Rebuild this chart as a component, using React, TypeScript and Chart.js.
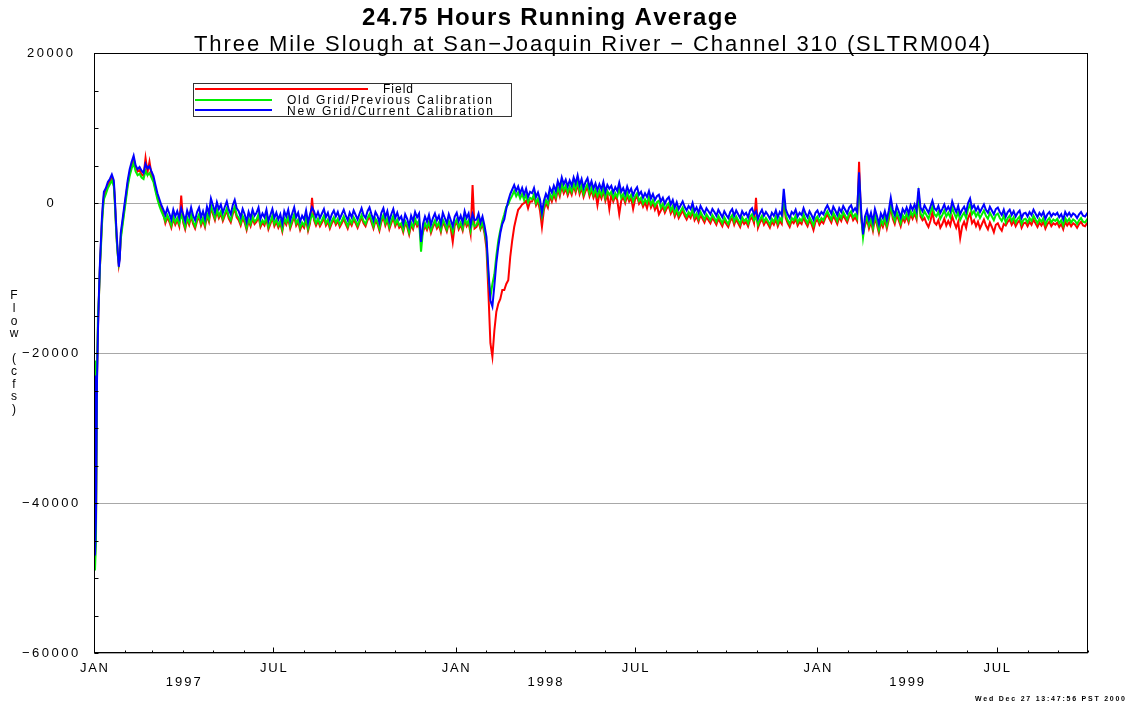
import React, { useEffect, useRef } from 'react';
import { Chart, registerables } from 'chart.js';

Chart.register(...registerables);

// Day offsets from 1 Jan 1997
const days: number[] = [
  0, 1, 2, 3, 4, 5, 6, 7, 8, 9, 10, 12, 14, 16, 18, 20, 21, 22, 23, 24, 25, 26, 27, 28, 30, 32, 34, 36, 38, 40, 42, 44,
  46, 48, 50, 52, 54, 56, 58, 60, 62, 64,
  66, 68, 70, 72, 74, 76, 78, 80, 82, 84,
  86, 88, 90, 92, 94, 96, 98, 100, 102, 104,
  106, 108, 110, 112, 114, 116, 118, 120, 122, 124,
  126, 128, 130, 132, 134, 136, 138, 140, 142, 144,
  146, 148, 150, 152, 154, 156, 158, 160, 162, 164,
  166, 168, 170, 172, 174, 176, 178, 180, 182, 184,
  186, 188, 190, 192, 194, 196, 198, 200, 202, 204,
  206, 208, 210, 212, 214, 216, 218, 220, 222, 224,
  226, 228, 230, 232, 234, 236, 238, 240, 242, 244,
  246, 248, 250, 252, 254, 256, 258, 260, 262, 264,
  266, 268, 270, 272, 274, 276, 278, 280, 282, 284,
  286, 288, 290, 292, 294, 296, 298, 300, 302, 304,
  306, 308, 310, 312, 314, 316, 318, 320, 322, 324,
  326, 328, 330, 332, 334, 336, 338, 340, 342, 344,
  346, 348, 350, 352, 354, 356, 358, 360, 362, 364,
  366, 368, 370, 372, 374, 376, 378, 380, 382, 384,
  386, 388, 390, 392, 394, 396, 398, 400, 402, 404,
  406, 408, 410, 412, 414, 416, 418, 420, 422, 424,
  426, 428, 430, 432, 434, 436, 438, 440,
  442, 444, 446, 448, 450, 452, 454, 456, 458, 460,
  462, 464, 466, 468, 470, 472, 474, 476, 478, 480,
  482, 484, 486, 488, 490, 492, 494, 496, 498, 500,
  502, 504, 506, 508, 510, 512, 514, 516, 518, 520,
  522, 524, 526, 528, 530, 532, 534, 536, 538, 540,
  542, 544, 546, 548, 550, 552, 554, 556, 558, 560,
  562, 564, 566, 568, 570, 572, 574, 576, 578, 580,
  582, 584, 586, 588, 590, 592, 594, 596, 598, 600,
  602, 604, 606, 608, 610, 612, 614, 616, 618, 620,
  622, 624, 626, 628, 630, 632, 634, 636, 638, 640,
  642, 644, 646, 648, 650, 652, 654, 656, 658, 660,
  662, 664, 666, 668, 670, 672, 674, 676, 678, 680,
  682, 684, 686, 688, 690, 692, 694, 696, 698, 700,
  702, 704, 706, 708, 710, 712, 714, 716, 718, 720,
  722, 724, 726, 728, 730, 732, 734, 736, 738, 740,
  742, 744, 746, 748, 750, 752, 754, 756, 758, 760,
  762, 764, 766, 768, 770, 772, 774, 776, 778, 780,
  782, 784, 786, 788, 790, 792, 794, 796, 798, 800,
  802, 804, 806, 808, 810, 812, 814, 816, 818, 820,
  822, 824, 826, 828, 830, 832, 834, 836, 838, 840,
  842, 844, 846, 848, 850, 852, 854, 856, 858, 860,
  862, 864, 866, 868, 870, 872, 874, 876, 878, 880,
  882, 884, 886, 888, 890, 892, 894, 896, 898, 900,
  902, 904, 906, 908, 910, 912, 914, 916, 918, 920,
  922, 924, 926, 928, 930, 932, 934, 936, 938, 940,
  942, 944, 946, 948, 950, 952, 954, 956, 958, 960,
  962, 964, 966, 968, 970, 972, 974, 976, 978, 980,
  982, 984, 986, 988, 990, 992, 994, 996, 998, 1000,
  1002, 1003,
];

// Field (observed) flow, cfs
const fieldFlow: number[] = [
  -22500, -47500, -43000, -23500, -16500, -12500, -8500, -5500, -2500, -500, 1000, 1600, 2400, 2900, 3400, 2600, 400,
  -2400, -5000, -6800, -8200, -7200, -4500, -3400, -1400, 600, 2600, 4000, 5000, 5900, 4800, 4200,
  4400, 3800, 3600, 6000, 4100, 5500, 3800, 3100, 1900, 800,
  -100, -800, -1500, -2700, -1900, -2500, -3300, -2100, -2900, -2300,
  -3100, 1000, -2600, -3500, -2200, -2900, -1800, -2800, -3400, -2400,
  -1800, -3000, -2300, -3200, -1700, -2500, -600, -1500, -2300, -1100,
  -2000, -1400, -2400, -1700, -1000, -2100, -2600, -1500, -800, -1900,
  -2300, -3000, -2000, -2600, -3600, -2400, -3100, -2100, -2800, -2500,
  -1800, -3200, -2600, -3000, -2100, -3500, -2800, -2000, -3100, -2500,
  -3300, -2700, -3800, -2300, -2900, -2100, -3400, -2600, -1800, -3000,
  -2500, -3600, -2900, -3300, -2200, -3700, -2700, 700, -2300, -3000,
  -2400, -3100, -2600, -2000, -3000, -2500, -3400, -2700, -2200, -2900,
  -2400, -3200, -2700, -2100, -2800, -3400, -2500, -3000, -2200, -2700,
  -3300, -2600, -1900, -2700, -3100, -2300, -1800, -2600, -3400, -2400,
  -2800, -3700, -2500, -1900, -3000, -2300, -3500, -2700, -2000, -3100,
  -2500, -3300, -3000, -3900, -2700, -3200, -4200, -2900, -3500, -2400,
  -3100, -2600, -4800, -3900, -3000, -3600, -2800, -4000, -3200, -2600,
  -3400, -2900, -3900, -2500, -3100, -3800, -2700, -3400, -5200, -3000,
  -2500, -3500, -2900, -3700, -2300, -3100, -2600, -4100, 2400, -3400,
  -3200, -2500, -3500, -2800, -4000, -6000, -12000, -18700, -20500, -17000,
  -14500, -13400, -12800, -11600, -11600, -10800, -10300, -7200, -5000, -3200,
  -2000, -900, -600, -200, 0, 300, -700, 200,
  200, 900, -300, 300, -1000, -3200, -900, 0, -600, 900,
  200, 1100, 400, 1800, 900, 2200, 1300, 1900, 1000, 1800,
  1100, 2300, 1400, 2500, 1200, 2000, 800, 1600, 2100, 900,
  1700, 700, 1400, -300, 1300, 600, 1600, 300, 1200, -800,
  1100, 200, 900, 400, -1500, 300, 800, 0, 1000, 200,
  700, -800, 500, 900, -100, 300, -500, 100, -700, 400,
  -600, 0, -900, -300, -1500, -1000, -500, -1300, -700, -400,
  -1400, -800, -1800, -1100, -2000, -1500, -1000, -1700, -2200, -1600,
  -2000, -1200, -2300, -1800, -2500, -1600, -2100, -2600, -1900, -2300,
  -2700, -2000, -2400, -2900, -2100, -2600, -3100, -2300, -2800, -3200,
  -2400, -2000, -2900, -2200, -2700, -3200, -2300, -2800, -2500, -3100,
  -2200, -1900, -2700, 700, -3300, -2600, -2100, -2900, -2400, -2800,
  -3300, -2500, -2900, -2200, -3100, -2400, -2800, 400, -2000, -2700,
  -3200, -2400, -2700, -2100, -3000, -2500, -2800, -1900, -2600, -3100,
  -2300, -2800, -3600, -2500, -2200, -2900, -2400, -2700, -2000, -1500,
  -2100, -2600, -1700, -2200, -2800, -1900, -2400, -1600, -2100, -2600,
  -1800, -1500, -2300, -1900, -2400, 5500, -2000, -3800, -3000, -2200,
  -3400, -2500, -3700, -2000, -2900, -4000, -2600, -3200, -2300, -3400,
  -2200, -500, -2100, -2800, -1600, -2300, -3100, -2000, -2500, -1800,
  -2600, -1500, -2100, -1400, -2200, 1500, -1800, -2300, -2000, -2700,
  -3200, -2400, -1200, -2600, -2900, -2300, -3300, -2800, -2100, -3000,
  -2400, -3000, -1800, -2600, -3300, -2500, -4700, -3100, -2500, -3300,
  -2000, -1400, -2700, -2300, -3100, -2500, -3400, -2800, -2200, -3000,
  -3500, -2600, -3200, -3900, -2900, -2700, -3300, -3700, -2800, -3000,
  -2500, -2200, -2900, -2400, -3100, -2600, -2300, -3300, -2700, -2600,
  -3100, -2500, -2900, -2200, -2700, -3200, -2600, -3000, -2500, -3400,
  -2800, -2500, -3100, -2700, -2900, -2600, -3200, -2800, -3500, -2500,
  -3000, -2600, -3100, -2700, -2900, -3300, -2800, -2500, -3000, -3100,
  -2700, -2900,
];

// Old grid / previous calibration, cfs
const oldGridFlow: number[] = [
  -21000, -49000, -45000, -23000, -15000, -12500, -8500, -6000, -3000, -1000, 500, 1200, 2000, 2500, 3000, 2200, 0,
  -2800, -5200, -7000, -8000, -7000, -4800, -3800, -1800, 200, 2200, 3600, 4600, 5300, 4200, 3700,
  3900, 3400, 3200, 4300, 3700, 4000, 3400, 2800, 1600, 500,
  -400, -1100, -1700, -2400, -1600, -2200, -3000, -1800, -2600, -2000,
  -2800, -1600, -2300, -3200, -1900, -2600, -1500, -2500, -3100, -2100,
  -1500, -2700, -2000, -2900, -1400, -2200, -300, -1200, -2000, -800,
  -1700, -1100, -2100, -1400, -700, -1800, -2300, -1200, -500, -1600,
  -2000, -2700, -1700, -2300, -3300, -2100, -2800, -1800, -2500, -2200,
  -1500, -2900, -2300, -2700, -1800, -3200, -2500, -1700, -2800, -2200,
  -3000, -2400, -3500, -2000, -2600, -1800, -3100, -2300, -1500, -2700,
  -2200, -3300, -2600, -3000, -1900, -3400, -2400, -1500, -2000, -2700,
  -2100, -2800, -2300, -1700, -2700, -2200, -3100, -2400, -1900, -2600,
  -2100, -2900, -2400, -1800, -2500, -3100, -2200, -2700, -1900, -2400,
  -3000, -2300, -1600, -2400, -2800, -2000, -1500, -2300, -3100, -2100,
  -2500, -3400, -2200, -1600, -2700, -2000, -3200, -2400, -1700, -2800,
  -2200, -3000, -2700, -3600, -2400, -2900, -3900, -2600, -3200, -2100,
  -2800, -2300, -6500, -3600, -2700, -3300, -2500, -3700, -2900, -2300,
  -3100, -2600, -3600, -2200, -2800, -3500, -2400, -3100, -3900, -2700,
  -2200, -3200, -2600, -3400, -2000, -2800, -2300, -3700, -2400, -3100,
  -2900, -2100, -3300, -2500, -3700, -5200, -9800, -12500, -10800, -9500,
  -7000, -5000, -3600, -2400, -1500, -500, -200, 500, 1000, 1600,
  900, 1400, 600, 1200, 400, 1100, 100, 700,
  500, 1200, 0, 600, -300, -1800, -500, 400, -200, 1200,
  600, 1500, 800, 2100, 1300, 2600, 1700, 2300, 1400, 2200,
  1500, 2600, 1800, 2900, 1600, 2400, 1200, 2000, 2500, 1300,
  2100, 1100, 1800, 900, 1700, 1000, 2000, 700, 1600, 1100,
  1500, 600, 1300, 800, 1900, 700, 1200, 400, 1400, 600,
  1100, 200, 900, 1300, 300, 700, -100, 500, 0, 800,
  -200, 400, -400, 100, 300, -600, -100, -900, -300, 0,
  -1000, -400, -1400, -700, -1600, -1100, -600, -1300, -1800, -1200,
  -1600, -800, -1900, -1400, -2100, -1200, -1700, -2200, -1500, -1900,
  -2300, -1600, -2000, -2500, -1700, -2200, -2700, -1900, -2400, -2800,
  -2000, -1600, -2500, -1800, -2300, -2800, -1900, -2400, -2100, -2700,
  -1800, -1500, -2300, -1900, -2900, -2200, -1700, -2500, -2000, -2400,
  -2900, -2100, -2500, -1800, -2700, -2000, -2400, 900, -1600, -2300,
  -2800, -2000, -2300, -1700, -2600, -2100, -2400, -1500, -2200, -2700,
  -1900, -2400, -3000, -2100, -1800, -2500, -2000, -2300, -1600, -1100,
  -1700, -2200, -1300, -1800, -2400, -1500, -2000, -1200, -1700, -2200,
  -1400, -1100, -1900, -1500, -2000, 3200, -1600, -4600, -2600, -1800,
  -3000, -2100, -3300, -1600, -2500, -3600, -2200, -2800, -1900, -3000,
  -1800, -100, -1700, -2400, -1200, -1900, -2700, -1600, -2100, -1400,
  -2200, -1100, -1700, -1000, -1800, 1000, -1400, -1900, -1100, -1600,
  -2100, -1300, -500, -1500, -1800, -1200, -2100, -1600, -1000, -1800,
  -1300, -1900, -600, -1400, -2000, -1200, -2300, -1700, -1300, -2000,
  -800, -200, -1500, -1100, -1800, -1300, -2000, -1500, -1000, -1700,
  -2100, -1300, -1800, -2300, -1600, -1400, -2000, -2400, -1700, -2600,
  -2000, -1700, -2400, -1900, -2600, -2100, -1800, -2800, -2200, -2100,
  -2600, -2000, -2400, -1700, -2200, -2700, -2100, -2500, -2000, -2900,
  -2300, -2000, -2600, -2200, -2400, -2100, -2700, -2300, -3000, -2000,
  -2500, -2100, -2600, -2200, -2400, -2800, -2300, -2000, -2500, -2600,
  -2200, -2400,
];

// New grid / current calibration, cfs
const newGridFlow: number[] = [
  -23000, -47000, -42000, -24000, -17000, -12000, -8000, -5000, -2000, 0, 1500, 2000, 2800, 3200, 3800, 3000, 800,
  -2000, -4500, -6500, -8500, -7500, -4000, -3000, -1000, 1000, 3000, 4500, 5500, 6300, 5000, 4500,
  4800, 4300, 4000, 5200, 4600, 4900, 4200, 3600, 2400, 1300,
  500, -300, -900, -1600, -700, -1400, -2200, -900, -1800, -1100,
  -2000, -700, -1500, -2400, -1000, -1800, -600, -1700, -2300, -1200,
  -600, -1900, -1100, -2100, -500, -1400, 600, -300, -1200, 100,
  -800, -200, -1300, -500, 200, -900, -1500, -300, 400, -700,
  -1100, -1900, -800, -1500, -2500, -1200, -2000, -900, -1700, -1300,
  -600, -2100, -1400, -1900, -900, -2400, -1600, -800, -2000, -1300,
  -2200, -1500, -2700, -1100, -1800, -900, -2300, -1400, -600, -1900,
  -1300, -2500, -1700, -2200, -1000, -2600, -1500, -600, -1100, -1900,
  -1200, -2000, -1400, -800, -1900, -1300, -2300, -1500, -1000, -1800,
  -1200, -2100, -1500, -900, -1700, -2300, -1300, -1900, -1000, -1600,
  -2200, -1400, -700, -1600, -2000, -1100, -600, -1500, -2300, -1200,
  -1700, -2600, -1300, -700, -1900, -1100, -2400, -1500, -800, -2000,
  -1300, -2200, -1800, -2800, -1500, -2100, -3100, -1700, -2400, -1200,
  -1900, -1400, -5200, -2800, -1800, -2500, -1600, -2900, -2000, -1400,
  -2300, -1700, -2800, -1300, -2000, -2700, -1500, -2300, -3100, -1800,
  -1300, -2400, -1700, -2600, -1100, -2000, -1400, -2900, -1500, -2300,
  -2200, -1400, -2600, -1800, -3000, -4500, -9000, -13000, -13800, -11000,
  -8000, -5800, -4000, -2800, -2200, -800, 300, 1200, 1800, 2400,
  1600, 2200, 1300, 2000, 1100, 1900, 800, 1500,
  1300, 2000, 800, 1400, 500, -1300, 300, 1200, 600, 2000,
  1400, 2300, 1600, 2900, 2100, 3400, 2500, 3100, 2200, 3000,
  2300, 3400, 2600, 3700, 2400, 3200, 2000, 2800, 3300, 2100,
  2900, 1900, 2600, 1700, 2500, 1800, 2800, 1500, 2400, 1900,
  2300, 1400, 2100, 1600, 2700, 1500, 2000, 1200, 2200, 1400,
  1900, 1000, 1700, 2100, 1100, 1500, 700, 1300, 800, 1600,
  600, 1200, 400, 900, 1100, 200, 700, -100, 500, 800,
  -200, 400, -600, 100, -800, -300, 200, -500, -1000, -400,
  -800, 0, -1100, -600, -1300, -400, -900, -1400, -700, -1100,
  -1500, -800, -1200, -1700, -900, -1400, -1900, -1100, -1600, -2000,
  -1200, -800, -1700, -1000, -1500, -2000, -1100, -1600, -1300, -1900,
  -1000, -700, -1500, -1100, -2100, -1400, -900, -1700, -1200, -1600,
  -2100, -1300, -1700, -1000, -1900, -1200, -1600, 1900, -800, -1500,
  -2000, -1200, -1500, -900, -1800, -1300, -1600, -700, -1400, -1900,
  -1100, -1600, -2200, -1300, -1000, -1700, -1200, -1500, -800, -300,
  -900, -1400, -500, -1000, -1600, -700, -1200, -400, -900, -1400,
  -600, -300, -1100, -700, -1200, 4100, -800, -4200, -1800, -1000,
  -2200, -1300, -2500, -800, -1700, -2800, -1400, -2000, -1100, -2200,
  -1000, 700, -900, -1600, -400, -1100, -1900, -800, -1300, -600,
  -1400, -300, -900, -200, -1000, 2000, -600, -1100, -300, -800,
  -1300, -500, 300, -700, -1000, -400, -1300, -800, -200, -1000,
  -500, -1100, 200, -600, -1200, -400, -1500, -900, -500, -1200,
  0, 600, -700, -300, -1000, -500, -1200, -700, -200, -900,
  -1300, -500, -1000, -1500, -800, -600, -1200, -1600, -900, -1800,
  -1200, -900, -1600, -1100, -1800, -1300, -1000, -2000, -1400, -1300,
  -1800, -1200, -1600, -900, -1400, -1900, -1300, -1700, -1200, -2100,
  -1500, -1200, -1800, -1400, -1600, -1300, -1900, -1500, -2200, -1200,
  -1700, -1300, -1800, -1400, -1600, -2000, -1500, -1200, -1700, -1800,
  -1400, -1600,
];

const seriesLabels = ['Field', 'Old Grid/Previous Calibration', 'New Grid/Current Calibration'];
const seriesColors = ['#ff0000', '#00ee00', '#0000ff'];

const titleText = '24.75 Hours Running Average';
const subtitleText = 'Three Mile Slough at San\u2212Joaquin River \u2212 Channel 310 (SLTRM004)';
const yAxisTitle = 'Flow (cfs)';
const stampText = 'Wed Dec 27 13:47:56 PST 2000';

const yMin = -60000;
const yMax = 20000;
const yMajorStep = 20000;
const yMinorStep = 5000;

const xMinDay = 0;
const xMaxDay = 1003;
const monthTickDays = [
  0, 31, 59, 90, 120, 151, 181, 212, 243, 273, 304, 334,
  365, 396, 424, 455, 485, 516, 546, 577, 608, 638, 669, 699,
  730, 761, 789, 820, 850, 881, 911, 942, 973, 1003,
];
const monthTickLabels = [
  'JAN', '', '', '', '', '', 'JUL', '', '', '', '', '',
  'JAN', '', '', '', '', '', 'JUL', '', '', '', '', '',
  'JAN', '', '', '', '', '', 'JUL', '', '', '',
];
const yearLabels = ['1997', '1998', '1999'];
const yearLabelDays = [90, 455, 820];

const FONT = '"Liberation Sans", Arial, Helvetica, sans-serif';

function drawSpaced(
  ctx: CanvasRenderingContext2D,
  text: string,
  x: number,
  y: number,
  font: string,
  spacing: number,
  align: 'left' | 'center' | 'right',
) {
  ctx.font = font;
  ctx.textAlign = 'left';
  const chars = Array.from(text);
  const widths = chars.map((c) => ctx.measureText(c).width);
  const total = widths.reduce((a, b) => a + b, 0) + spacing * (chars.length - 1);
  let cx = align === 'left' ? x : align === 'center' ? x - total / 2 : x - total;
  chars.forEach((c, i) => {
    ctx.fillText(c, cx, y);
    cx += widths[i] + spacing;
  });
}

function drawFitted(
  ctx: CanvasRenderingContext2D,
  text: string,
  x: number,
  y: number,
  font: string,
  width: number,
) {
  ctx.font = font;
  const chars = Array.from(text);
  const sum = chars.reduce((a, c) => a + ctx.measureText(c).width, 0);
  const spacing = chars.length > 1 ? (width - sum) / (chars.length - 1) : 0;
  drawSpaced(ctx, text, x, y, font, spacing, 'left');
}

function fmtY(v: number) {
  return v < 0 ? '\u2212' + String(Math.abs(v)) : String(v);
}

const decorPlugin = {
  id: 'decor',
  afterDraw(chart: any) {
    const ctx: CanvasRenderingContext2D = chart.ctx;
    const a = chart.chartArea;
    const xs = chart.scales.x;
    const ys = chart.scales.y;
    ctx.save();

    const L = Math.round(a.left) + 0.5;
    const R = Math.round(a.right) - 0.5;
    const T = Math.round(a.top) + 0.5;
    const B = Math.round(a.bottom) - 0.5;

    // frame
    ctx.strokeStyle = '#000';
    ctx.lineWidth = 1;
    ctx.strokeRect(L, T, R - L, B - T);

    // inner tick marks
    ctx.beginPath();
    for (let v = yMin; v <= yMax; v += yMinorStep) {
      const py = Math.round(ys.getPixelForValue(v)) + 0.5;
      ctx.moveTo(L, py);
      ctx.lineTo(L + 4, py);
    }
    monthTickDays.forEach((d, i) => {
      const px = Math.round(xs.getPixelForValue(d)) + 0.5;
      const len = monthTickLabels[i] ? 5 : 2;
      ctx.moveTo(px, B);
      ctx.lineTo(px, B - len);
    });
    ctx.stroke();

    ctx.fillStyle = '#000';

    // y tick labels
    ctx.textBaseline = 'middle';
    ys.ticks.forEach((t: any) => {
      const py = ys.getPixelForValue(t.value);
      drawSpaced(ctx, fmtY(t.value), 50, py, `13px ${FONT}`, 2.5, 'center');
    });

    // y axis title, stacked letters
    Array.from(yAxisTitle).forEach((c, i) => {
      if (c === ' ') return;
      ctx.font = `12px ${FONT}`;
      ctx.textAlign = 'center';
      ctx.fillText(c, 14, 296 + i * 12.6);
    });

    // x tick labels
    ctx.textBaseline = 'alphabetic';
    monthTickDays.forEach((d, i) => {
      if (!monthTickLabels[i]) return;
      const px = xs.getPixelForValue(d);
      drawSpaced(ctx, monthTickLabels[i], px, 672, `13px ${FONT}`, 1.7, 'center');
    });
    yearLabels.forEach((lab, i) => {
      const px = xs.getPixelForValue(yearLabelDays[i]);
      drawSpaced(ctx, lab, px, 686, `13px ${FONT}`, 2, 'center');
    });

    // titles
    drawFitted(ctx, titleText, 362, 25, `bold 24px ${FONT}`, 375);
    drawFitted(ctx, subtitleText, 194, 51, `22px ${FONT}`, 796);

    // legend
    ctx.fillStyle = '#fff';
    ctx.fillRect(193, 83, 319, 33);
    ctx.strokeStyle = '#333';
    ctx.lineWidth = 1;
    ctx.strokeRect(193.5, 83.5, 318, 33);
    const lineEnds = [368, 272, 272];
    const lineYs = [89, 100, 110];
    const textXs = [383, 287, 287];
    const textWs = [30, 205, 206];
    const textYs = [93, 104, 115];
    seriesLabels.forEach((lab, i) => {
      ctx.strokeStyle = seriesColors[i];
      ctx.lineWidth = 2;
      ctx.beginPath();
      ctx.moveTo(195, lineYs[i]);
      ctx.lineTo(lineEnds[i], lineYs[i]);
      ctx.stroke();
      ctx.fillStyle = '#000';
      drawFitted(ctx, lab, textXs[i], textYs[i], `12px ${FONT}`, textWs[i]);
    });

    // time stamp
    drawFitted(ctx, stampText, 975, 701, `bold 7px ${FONT}`, 150);

    ctx.restore();
  },
};

export default function App() {
  const ref = useRef<HTMLCanvasElement>(null);

  useEffect(() => {
    const canvas = ref.current;
    if (!canvas) return;
    const mk = (vals: number[]) => days.map((d, i) => ({ x: d, y: vals[i] }));
    const chart = new Chart(canvas, {
      type: 'line',
      data: {
        datasets: [
          { label: seriesLabels[2], data: mk(newGridFlow), borderColor: seriesColors[2], order: 1 },
          { label: seriesLabels[1], data: mk(oldGridFlow), borderColor: seriesColors[1], order: 2 },
          { label: seriesLabels[0], data: mk(fieldFlow), borderColor: seriesColors[0], order: 3 },
        ],
      },
      options: {
        responsive: false,
        animation: false,
        events: [],
        layout: { padding: { left: 94, top: 53, right: 38, bottom: 51 } },
        elements: {
          point: { radius: 0 },
          line: { borderWidth: 2, tension: 0, fill: false },
        },
        plugins: {
          legend: { display: false },
          tooltip: { enabled: false },
          title: { display: false },
        },
        scales: {
          x: {
            type: 'linear',
            min: xMinDay,
            max: xMaxDay,
            ticks: { display: false },
            grid: { display: false, drawTicks: false },
            border: { display: false },
          },
          y: {
            type: 'linear',
            min: yMin,
            max: yMax,
            ticks: { display: false, stepSize: yMajorStep },
            grid: { color: '#a8a8a8', lineWidth: 1, drawTicks: false },
            border: { display: false },
          },
        },
      },
      plugins: [decorPlugin],
    } as any);
    return () => chart.destroy();
  }, []);

  return (
    <div style={{ position: 'fixed', left: 0, top: 0, width: 1126, height: 704, background: '#fff' }}>
      <canvas ref={ref} width={1126} height={704} style={{ display: 'block' }} />
    </div>
  );
}
